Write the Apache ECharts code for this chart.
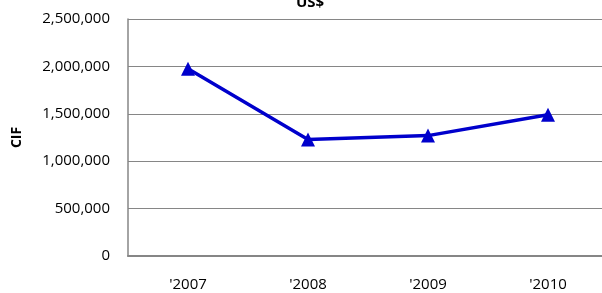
<!DOCTYPE html>
<html>
<head>
<meta charset="utf-8">
<script src="https://cdn.jsdelivr.net/npm/echarts@6/dist/echarts.min.js"></script>
<style>
  html, body { margin: 0; padding: 0; background: #fff; }
  #main { width: 602px; height: 293px; }
</style>
</head>
<body>
<div id="main"></div>
<script>
// data
const years = ["'2007", "'2008", "'2009", "'2010"]
const cifValues = [1975000, 1228000, 1270000, 1490000]
const yTicks = [0, 500000, 1000000, 1500000, 2000000, 2500000]

const chart = echarts.init(document.getElementById('main'))
const font = 'Open Sans'

const option = {
  animation: false,
  title: {
    text: 'US$',
    left: 305,
    top: -10,
    textAlign: 'center',
    textStyle: { fontFamily: font, fontSize: 15, fontWeight: 'bold', color: '#000' }
  },
  grid: {
    left: 128,
    top: 19,
    right: -6,
    bottom: 37,
    outerBoundsMode: 'none'
  },
  xAxis: {
    type: 'category',
    data: years,
    boundaryGap: true,
    axisLine: { lineStyle: { color: '#868686', width: 2 } },
    axisTick: { show: false },
    axisLabel: { margin: 21, color: '#000', fontFamily: font, fontSize: 15 }
  },
  yAxis: {
    type: 'value',
    min: yTicks[0],
    max: yTicks[yTicks.length - 1],
    interval: 500000,
    name: 'CIF',
    nameLocation: 'middle',
    nameGap: 104,
    nameRotate: 90,
    nameTextStyle: { fontFamily: font, fontSize: 14, fontWeight: 'bold', color: '#000' },
    axisLine: { show: true, lineStyle: { color: '#868686', width: 1.5 } },
    axisTick: { show: false },
    splitLine: { lineStyle: { color: '#868686', width: 1.2 } },
    axisLabel: {
      margin: 18,
      color: '#000',
      fontFamily: font,
      fontSize: 15,
      formatter: v => v.toLocaleString('en-US')
    }
  },
  series: [{
    type: 'line',
    data: cifValues,
    symbol: 'triangle',
    symbolSize: 14,
    lineStyle: { color: '#0000CC', width: 3.5 },
    itemStyle: { color: '#0000CC' }
  }]
}
chart.setOption(option)
</script>
</body>
</html>
